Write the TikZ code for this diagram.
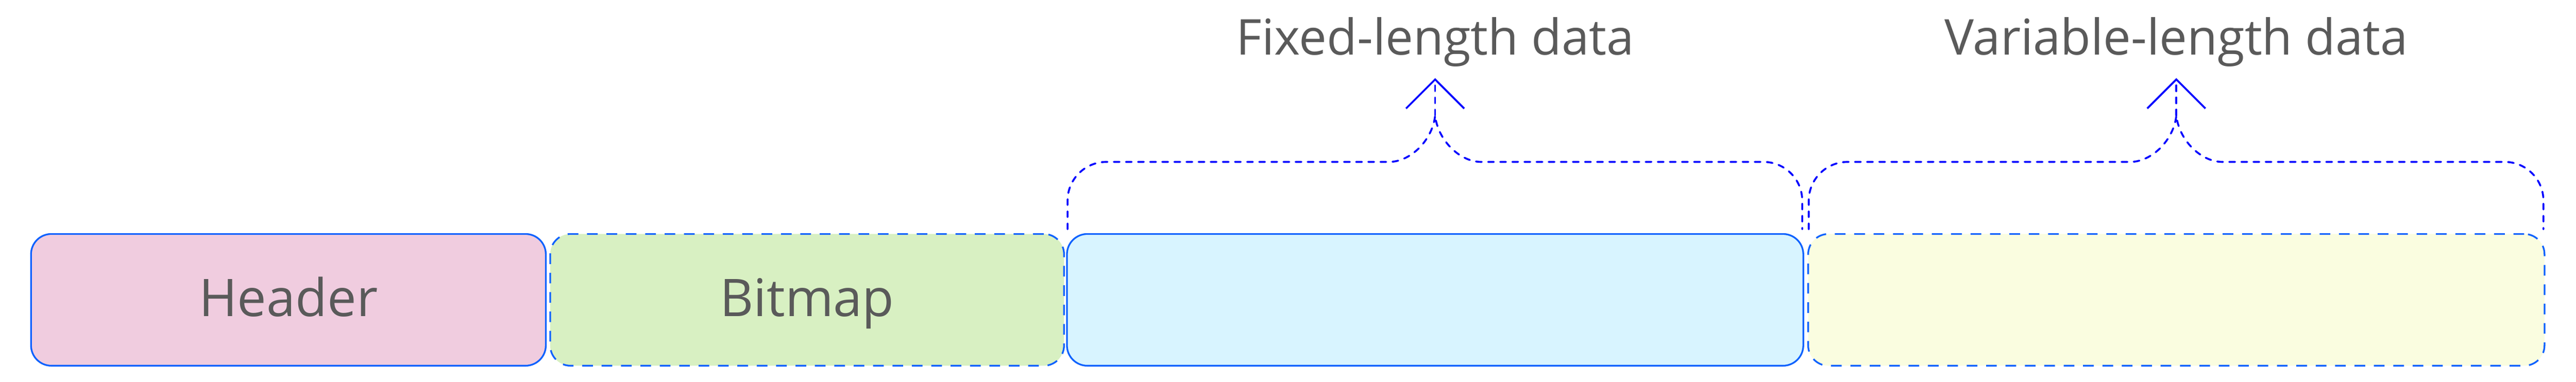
\documentclass[tikz,border=0pt]{standalone}
\usepackage{fontspec}
\setmainfont{Open Sans}
\usetikzlibrary{arrows.meta,calc}
\definecolor{edgeblue}{HTML}{0F62FE}
\definecolor{bracecol}{HTML}{0000FF}
\definecolor{txtgray}{HTML}{5A5A5A}
\definecolor{hdrfill}{HTML}{F0CCDF}
\definecolor{bmpfill}{HTML}{D8F0C2}
\definecolor{fixfill}{HTML}{D8F4FF}
\definecolor{varfill}{HTML}{FAFDE0}
\begin{document}
\begin{tikzpicture}[
       font=\fontsize{29pt}{35pt}\selectfont,
       box/.style={draw=edgeblue, line width=1pt, rounded corners=0.42cm,
         minimum height=2.72cm, text height=0.9cm, text depth=0.22cm,
         text=txtgray, font=\fontsize{30.5pt}{36pt}\selectfont},
       dashedbox/.style={dash pattern=on 0.22cm off 0.18cm},
       brace/.style={draw=bracecol, line width=1.1pt, line cap=round,
         dash pattern=on 0.12cm off 0.13cm},
       lbl/.style={text=txtgray, anchor=base, inner sep=0pt},
       ]
      \useasboundingbox (0,0) rectangle (53.14,7.88);

       \foreach \nm/\cx/\bw/\fc/\ls/\txt in {header/5.95/10.62/hdrfill/solid/Header,
           bitmap/16.65/10.60/bmpfill/dashedbox/Bitmap,
           fixed/29.605/15.19/fixfill/solid/{},
           var/44.895/15.19/varfill/dashedbox/{}} {
         \node[box, fill=\fc, \ls, minimum width=\bw cm] (\nm) at (\cx,1.69) {\txt};
       }
       \foreach \nm/\txt in {fixed/Fixed-length data, var/Variable-length data} {
         \coordinate (\nm top) at ($(\nm.north)+(0,2.43)$);
         \coordinate (\nm tip) at ($(\nm.north)+(0,3.20)$);
         \draw[brace]
           ($(\nm.north west)+(0.03,0.08)$) -- ($(\nm.north west)+(0.03,0.67)$)
           arc[start angle=180, end angle=90, radius=0.8cm]
           -- ($(\nm.north)+(-0.95,1.47)$)
           .. controls ($(\nm.north)+(-0.5,1.47)$) and ($(\nm.north)+(-0.05,1.93)$) .. (\nm top)
           .. controls ($(\nm.north)+(0.05,1.93)$) and ($(\nm.north)+(0.5,1.47)$) .. ($(\nm.north)+(0.95,1.47)$)
           -- ($(\nm.north east)+(-0.84,1.47)$)
           arc[start angle=90, end angle=0, radius=0.8cm]
           -- ($(\nm.north east)+(-0.04,0.08)$);
         \draw[brace, -{Straight Barb[length=0.6cm, width=1.2cm, line width=1.1pt]}]
           (\nm top) -- (\nm tip);
         \node[lbl] (\nm lbl) at ($(\nm.north)+(0,3.68)$) {\txt};
       }
     \end{tikzpicture}
\end{document}
